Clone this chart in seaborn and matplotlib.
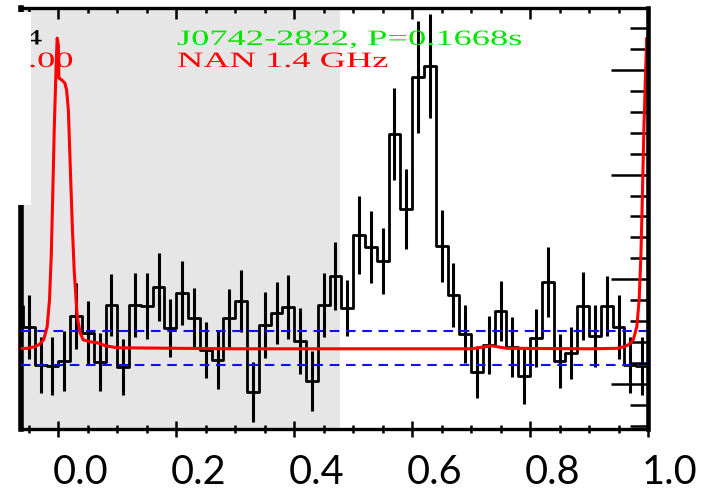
import numpy as np
import pandas as pd
import matplotlib
matplotlib.use("Agg")
import matplotlib.pyplot as plt
import seaborn as sns
from matplotlib.patches import Rectangle
from matplotlib.patheffects import AbstractPathEffect
from matplotlib.ticker import MultipleLocator, FixedLocator
from matplotlib.transforms import Affine2D, ScaledTranslation

# Gamma-ray pulse profile: 50 phase bins, weighted counts and 1-sigma errors
bin_width = 0.02
counts = [126.9, 144.9, 138.4, 126.8, 149.6, 124.8, 149.6, 149.0, 156.6, 140.2,
          154.2, 144.2, 131.6, 127.6, 144.4, 150.9, 114.5, 141.3, 146.3, 148.7,
          134.9, 118.9, 149.3, 160.9, 148.4, 177.6, 172.6, 166.9, 218.0, 188.0,
          240.5, 245.2, 172.9, 153.3, 137.8, 122.8, 133.6, 147.2, 132.5, 120.9,
          136.3, 158.7, 127.2, 130.3, 149.2, 136.9, 149.2, 140.5, 125.6, 125.0]
count_err = [12.0, 13.2, 12.8, 11.6, 12.4, 11.2, 12.8, 13.2, 13.6, 11.6,
             12.8, 12.0, 11.2, 11.6, 11.6, 12.4, 12.0, 13.2, 12.4, 12.8,
             13.2, 12.0, 12.8, 13.6, 11.2, 15.6, 14.4, 13.2, 18.4, 16.0,
             22.4, 20.8, 14.4, 12.8, 11.6, 10.4, 11.6, 12.0, 12.0, 11.2,
             11.6, 14.0, 10.8, 10.4, 13.6, 12.4, 12.0, 12.8, 11.2, 11.6]
background_level = 132.1
background_sigma = 6.8

# Radio (1.4 GHz) profile, one rotation
radio_phase = [-0.050, -0.040, -0.032, -0.025, -0.019, -0.015, -0.012, -0.0095,
               -0.007, -0.004, -0.002, 0.000, 0.001, 0.006, 0.011, 0.014, 0.017,
               0.020, 0.0237, 0.027, 0.032, 0.037, 0.042, 0.054, 0.066, 0.080,
               0.100, 0.300, 0.700, 0.735, 0.760, 0.900, 0.949]
radio_flux = [0.344, 0.353, 0.377, 0.420, 0.544, 0.802, 1.232, 1.805,
              2.426, 2.999, 3.305, 3.238, 2.923, 2.904, 2.875, 2.809, 2.617,
              2.111, 1.500, 1.070, 0.640, 0.487, 0.420, 0.401, 0.392, 0.363,
              0.344, 0.334, 0.334, 0.363, 0.339, 0.334, 0.339]

off_pulse = (-0.2, 0.478)
x_ticks = [0.0, 0.2, 0.4, 0.6, 0.8, 1.0]
x_tick_labels = ["0.0", "0.2", "0.4", "0.6", "0.8", "1.0"]
title_psr = "J0742-2822, P=0.1668s"
title_radio = "NAN 1.4 GHz"


class HorizontalStretch(AbstractPathEffect):
    """Draw text glyphs widened horizontally about the text origin."""

    def __init__(self, factor):
        super().__init__()
        self._factor = factor

    def draw_path(self, renderer, gc, tpath, affine, rgbFace=None):
        x0 = affine.transform((0.0, 0.0))[0]
        widen = Affine2D().translate(-x0, 0).scale(self._factor, 1.0).translate(x0, 0)
        renderer.draw_path(gc, tpath, affine + widen, rgbFace)


sns.set_theme(style="white")
plt.rcParams["font.family"] = ["Lato", "DejaVu Sans"]

W, H = 709, 493
fig = plt.figure(figsize=(W / 100, H / 100), dpi=100)
ax = fig.add_axes([21.2 / W, 1 - 428.7 / H, (648.0 - 21.2) / W, (428.7 - 7.7) / H])
ax.set_facecolor("white")

# off-pulse window
ax.axvspan(*off_pulse, color="#e6e6e6", lw=0, zorder=0)

# gamma-ray histogram, repeated over neighbouring rotations
centers = (np.arange(len(counts)) + 0.5) * bin_width
gamma = pd.DataFrame({
    "phase": np.concatenate([centers - 1, centers, centers + 1]),
    "counts": np.tile(counts, 3),
    "err": np.tile(count_err, 3),
})
sns.lineplot(data=gamma, x="phase", y="counts", drawstyle="steps-mid",
             color="black", lw=2.0, estimator=None, errorbar=None, ax=ax, zorder=2)
ax.errorbar(gamma["phase"], gamma["counts"], yerr=gamma["err"], fmt="none",
            ecolor="black", elinewidth=2.2, capsize=0, zorder=2)

# background level +/- 1 sigma
for lvl in (background_level + background_sigma, background_level - background_sigma):
    ax.axhline(lvl, color="#1010f0", lw=1.5, ls=(0, (4.6, 3.2)), zorder=3)

ax.set_xlim(-0.063, 1.0)
ax.set_ylim(100, 100 + (428.7 - 7.7) / 2.5)

# radio profile on its own scale
ax2 = ax.twinx()
rp = np.asarray(radio_phase)
radio = pd.DataFrame({
    "phase": np.concatenate([rp - 1, rp, rp + 1]),
    "flux": np.tile(radio_flux, 3),
})
sns.lineplot(data=radio, x="phase", y="flux", color="#ff0000", lw=2.2,
             estimator=None, errorbar=None, ax=ax2)
ax2.set_ylim(-0.430, 3.596)
ax2.set_xlim(-0.063, 1.0)

for a in (ax, ax2):
    a.set_xlabel("")
    a.set_ylabel("")

# spines
for s in ("top", "bottom", "left"):
    ax2.spines[s].set_visible(False)
ax.spines["right"].set_visible(False)
ax.spines["top"].set_linewidth(2.4)
ax.spines["bottom"].set_linewidth(2.4)
ax.spines["left"].set_linewidth(4.0)
ax2.spines["right"].set_linewidth(3.3)
for sp in list(ax.spines.values()) + list(ax2.spines.values()):
    sp.set_color("black")

# x ticks: bottom (labelled) on ax, top on ax2
ax.xaxis.set_major_locator(FixedLocator(x_ticks))
ax.xaxis.set_minor_locator(MultipleLocator(0.05))
ax.set_xticklabels(x_tick_labels)
ax.tick_params(axis="x", which="both", bottom=True, top=False, direction="inout",
               color="black", width=1.8, labelsize=28.5, labelcolor="black", pad=12)
ax.tick_params(axis="x", which="major", length=12.2)
ax.tick_params(axis="x", which="minor", length=5.8)
ax.tick_params(axis="y", which="both", left=False, right=False, labelleft=False)

ax2.xaxis.set_visible(True)
ax2.tick_params(axis="x", which="both", top=True, bottom=False, labeltop=False,
                labelbottom=False, direction="in", color="black", width=1.8)
ax2.tick_params(axis="x", which="major", length=7.9)
ax2.tick_params(axis="x", which="minor", length=3.6)

ax2.yaxis.set_major_locator(MultipleLocator(1.0))
ax2.yaxis.set_minor_locator(MultipleLocator(0.2))
ax2.tick_params(axis="y", which="both", right=True, left=False, labelright=False,
                direction="in", color="black", width=1.8)
ax2.tick_params(axis="y", which="major", length=26.6)
ax2.tick_params(axis="y", which="minor", length=13.0)

shift = ScaledTranslation(22 / 100, 0, fig.dpi_scale_trans)
for lbl in ax.get_xticklabels():
    lbl.set_transform(lbl.get_transform() + shift)

# blank corner over the upper part of the left axis
fig.add_artist(Rectangle((0, 1 - 205 / H), 31 / W, (205 - 12) / H,
                         transform=fig.transFigure, facecolor="white",
                         edgecolor="none", zorder=5))

serif = ["Liberation Serif", "DejaVu Serif"]
wide = [HorizontalStretch(1.66)]


def fig_text(x, y, s, color, z):
    t = fig.text(x / W, 1 - y / H, s, color=color, fontsize=15.8, family=serif,
                 ha="left", va="baseline", zorder=z)
    t.set_path_effects(wide)
    return t


fig_text(177, 45, title_psr, "#00e600", 6)
fig_text(177, 67, title_radio, "#ff0000", 6)
fig_text(24, 44.5, "4", "black", 4)
fig_text(28, 67, ".00", "#ff0000", 6)

fig.savefig("out.png", dpi=100, facecolor="white")
